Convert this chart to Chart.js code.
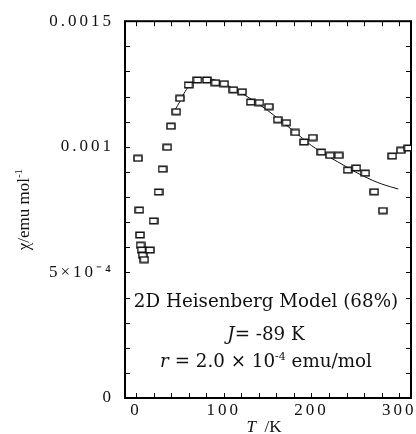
<!DOCTYPE html>
<html>
<head>
<meta charset="utf-8">
<script src="https://cdn.jsdelivr.net/npm/chart.js@4.4.1/dist/chart.umd.min.js"></script>
<style>
body { margin: 0; background: #fff; }
#wrap { width: 416px; height: 434px; }
</style>
</head>
<body>
<div id="wrap"><canvas id="grafico" width="416" height="434"></canvas></div>
<script>
// Datos medidos: temperatura (K) y susceptibilidad (emu/mol)
const tempMedida = [2.3, 3.8, 4.6, 5.2, 6.4, 7.7, 9.4, 15.9, 20, 25.7, 30.3, 35.6, 39.8, 45.9, 50.1, 59.9, 70.1, 80.8, 90.6, 100.5,
    111.1, 121, 130.9, 140.7, 151.4, 161.6, 171.4, 181.6, 191.6, 201.5, 211.3, 221.2, 231.1, 241.3, 251.1, 261.4, 271.6, 281.5, 292.1, 302, 310.5];
const chiMedida = [0.000954, 0.000748, 0.000649, 0.000608, 0.000589, 0.000568, 0.000551, 0.000589, 0.000705, 0.00082, 0.000911, 0.000998,
    0.001082, 0.00114, 0.001193, 0.001246, 0.001266, 0.001266, 0.001255, 0.001251, 0.001227, 0.001219, 0.001178, 0.001176, 0.00116,
    0.001108, 0.001096, 0.001057, 0.001019, 0.001037, 0.000979, 0.000966, 0.000966, 0.000907, 0.000916, 0.000895, 0.000821, 0.000746,
    0.000963, 0.000986, 0.000995];

// Curva del ajuste (modelo Heisenberg 2D)
const tempAjuste = [45, 50, 56, 62, 70, 80, 90, 100, 110, 120, 130, 140, 150, 160, 170, 180, 190, 200, 210, 220, 230, 240, 250, 260, 270, 280, 290, 299];
const chiAjuste = [0.00115, 0.00118, 0.00122, 0.001248, 0.001265, 0.001272, 0.001266, 0.001252, 0.001234, 0.001214, 0.001193, 0.00117,
    0.001145, 0.001118, 0.00109, 0.001062, 0.001033, 0.001005, 0.000982, 0.00096, 0.00094, 0.00092, 0.0009, 0.000882, 0.000866,
    0.000852, 0.000841, 0.000832];

// Etiquetas de los ejes
const xEtiquetas = [0, 100, 200, 300];
const yValores = [0, 5, 10, 15]; // en unidades de 1e-4
const yEtiquetas = ['0', '5\u00d710\u207b\u2074', '0.001', '0.0015'];

const SERIF = '"Liberation Serif", "Times New Roman", serif';
const SERIF_TXT = '"DejaVu Serif", serif';

// marcador: rectángulo hueco
const cuadro = document.createElement('canvas');
cuadro.width = 10;
cuadro.height = 8;
const cc = cuadro.getContext('2d');
cc.fillStyle = '#fff';
cc.fillRect(1, 1.25, 8, 5.5);
cc.strokeStyle = '#111';
cc.lineWidth = 1.5;
cc.strokeRect(1, 1.25, 8, 5.5);

// dibuja trozos de texto seguidos, centrados en cx
function textoPartes(ctx, cx, y, partes) {
    let total = 0;
    partes.forEach(p => { ctx.font = p.font; total += ctx.measureText(p.t).width; });
    let x = cx - total / 2;
    ctx.textAlign = 'left';
    partes.forEach(p => {
        ctx.font = p.font;
        ctx.fillText(p.t, x, y + (p.dy || 0));
        x += ctx.measureText(p.t).width;
    });
}

const espaciado = {
    id: 'espaciado',
    beforeDraw(chart) { chart.ctx.letterSpacing = '3px'; },
    beforeDatasetsDraw(chart) { chart.ctx.letterSpacing = '0px'; }
};

// marcas hacia dentro en los cuatro lados
const marcas = {
    id: 'marcas',
    beforeDatasetsDraw(chart) {
        const ctx = chart.ctx;
        const a = chart.chartArea;
        const L = 5;
        ctx.save();
        ctx.strokeStyle = '#000';
        ctx.lineWidth = 1;
        ctx.beginPath();
        chart.scales.x.ticks.forEach(t => {
            const px = Math.round(chart.scales.x.getPixelForValue(t.value)) + 0.5;
            ctx.moveTo(px, a.bottom); ctx.lineTo(px, a.bottom - L);
            ctx.moveTo(px, a.top); ctx.lineTo(px, a.top + L);
        });
        chart.scales.y.ticks.forEach(t => {
            const py = Math.round(chart.scales.y.getPixelForValue(t.value)) + 0.5;
            ctx.moveTo(a.left, py); ctx.lineTo(a.left + L, py);
            ctx.moveTo(a.right, py); ctx.lineTo(a.right - L, py);
        });
        ctx.stroke();
        ctx.lineWidth = 2;
        ctx.strokeRect(a.left, a.top, a.right - a.left, a.bottom - a.top);
        ctx.restore();
    }
};

const textos = {
    id: 'textos',
    afterDraw(chart) {
        const ctx = chart.ctx;
        const area = chart.chartArea;
        const cx = (area.left + area.right) / 2 - 2;
        ctx.save();
        ctx.letterSpacing = '0px';
        ctx.fillStyle = '#111';
        ctx.textBaseline = 'alphabetic';
        const f = '18.3px ' + SERIF_TXT;
        const fi = 'italic 18.3px ' + SERIF_TXT;
        textoPartes(ctx, cx, 306.5, [{ t: '2D Heisenberg Model (68%)', font: f }]);
        textoPartes(ctx, cx, 340, [{ t: 'J', font: fi }, { t: '= -89 K', font: f }]);
        textoPartes(ctx, cx, 367, [{ t: 'r', font: fi }, { t: ' = 2.0 \u00d7 10', font: f },
            { t: '-4', font: '11px ' + SERIF_TXT, dy: -7 }, { t: ' emu/mol', font: f }]);

        // título eje x
        textoPartes(ctx, 264, 432, [{ t: 'T', font: 'italic 17px ' + SERIF }, { t: '  /K', font: '17px ' + SERIF }]);

        // título eje y
        ctx.translate(29, (area.top + area.bottom) / 2);
        ctx.rotate(-Math.PI / 2);
        textoPartes(ctx, 0, 0, [{ t: '\u03c7/emu mol', font: '17px ' + SERIF },
            { t: '-1', font: '11px ' + SERIF, dy: -7 }]);
        ctx.restore();
    }
};

const rejilla = { display: false, drawTicks: false };
const borde = { display: false };

new Chart(document.getElementById('grafico').getContext('2d'), {
    type: 'scatter',
    data: {
        datasets: [
            {
                label: 'Medido',
                data: tempMedida.map((t, i) => ({ x: t, y: chiMedida[i] })),
                pointStyle: cuadro,
                order: 1
            },
            {
                label: 'Ajuste',
                type: 'line',
                data: tempAjuste.map((t, i) => ({ x: t, y: chiAjuste[i] })),
                borderColor: '#111',
                borderWidth: 1,
                pointRadius: 0,
                cubicInterpolationMode: 'monotone',
                fill: false,
                order: 2
            }
        ]
    },
    options: {
        responsive: false,
        animation: false,
        layout: { padding: { top: 18, right: 5 } },
        plugins: {
            legend: { display: false },
            tooltip: { enabled: false }
        },
        scales: {
            x: {
                type: 'linear',
                position: 'bottom',
                min: -12.5,
                max: 313.5,
                afterFit: s => { s.height = 36; },
                grid: rejilla,
                border: borde,
                ticks: {
                    stepSize: 20,
                    includeBounds: false,
                    maxRotation: 0,
                    autoSkip: false,
                    padding: 2,
                    color: '#111',
                    font: { family: SERIF, size: 17 },
                    callback: v => xEtiquetas.includes(v) ? String(v) : ''
                }
            },
            y: {
                type: 'linear',
                position: 'left',
                min: 0,
                max: 0.0015,
                afterFit: s => { s.width = 125; },
                grid: rejilla,
                border: borde,
                ticks: {
                    stepSize: 0.0001,
                    includeBounds: false,
                    autoSkip: false,
                    padding: 11,
                    color: '#111',
                    font: { family: SERIF, size: 17 },
                    callback: v => {
                        const k = yValores.indexOf(Math.round(v * 1e4));
                        return k >= 0 ? yEtiquetas[k] : '';
                    }
                }
            }
        }
    },
    plugins: [espaciado, marcas, textos]
});
</script>
</body>
</html>
